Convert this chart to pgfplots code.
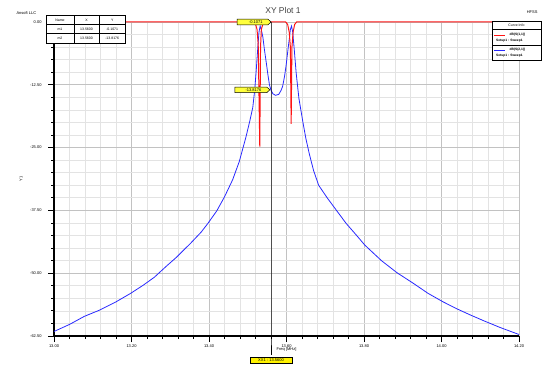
\documentclass[border=0pt]{standalone}
\usepackage{pgfplots}
\pgfplotsset{compat=1.18}
\usepackage{fontspec}
\setmainfont{Liberation Sans}
\definecolor{rcurve}{RGB}{255,20,20}
\definecolor{bcurve}{RGB}{40,40,255}
\definecolor{tagy}{RGB}{255,255,60}
\newcommand{\sm}{\fontsize{4}{4.5}\selectfont}
\begin{document}
\begin{tikzpicture}[x=1bp,y=1bp]
\useasboundingbox (0,0) rectangle (542,365);
\begin{axis}[
  at={(54bp,29bp)}, anchor=south west,
  scale only axis, width=465bp, height=314bp,
  xmin=13.0, xmax=14.2, ymin=-62.5, ymax=0,
  xtick={13.0,13.2,13.4,13.6,13.8,14.0,14.2},
  xticklabels={13.00,13.20,13.40,13.60,13.80,14.00,14.20},
  ytick={-62.5,-50,-37.5,-25,-12.5,0},
  yticklabels={-62.50,-50.00,-37.50,-25.00,-12.50,0.00},
  minor tick num=4,
  grid=both,
  major grid style={draw=black!24, line width=0.8pt},
  minor grid style={draw=black!11, line width=0.7pt},
  axis lines*=left,
  axis line style={black, line width=1.1pt},
  tick align=outside,
  major tick length=6bp, minor tick length=3bp,
  every tick/.style={black, line width=0.8pt},
  tick label style={font=\sm},
  xticklabel style={yshift=1bp},
  yticklabel style={xshift=-3bp},
  xlabel={Freq [MHz]}, xlabel style={font=\sm, yshift=7bp},
  ylabel={Y1}, ylabel style={font=\sm, yshift=1bp},
  clip=false,
]
\addplot[bcurve, line width=0.8pt] coordinates {
(13.000,-61.6) (13.040,-60.2) (13.078,-58.6) (13.116,-57.4) (13.160,-55.7)
(13.198,-54.0) (13.230,-52.4) (13.259,-50.8) (13.290,-48.6) (13.315,-46.9)
(13.353,-44.0) (13.380,-41.8) (13.397,-40.1) (13.420,-37.6) (13.440,-34.8)
(13.461,-31.4) (13.478,-27.8) (13.495,-23.0) (13.505,-19.8) (13.513,-17.0)
(13.518,-13.5) (13.522,-9.5) (13.526,-5.0) (13.529,-2.0) (13.532,-0.8)
(13.535,-1.5) (13.539,-3.0) (13.543,-5.5) (13.548,-8.2) (13.552,-10.5)
(13.556,-12.5) (13.560,-13.6) (13.565,-14.3) (13.572,-14.6) (13.580,-14.4)
(13.586,-13.6) (13.590,-12.8) (13.595,-10.8) (13.599,-8.6) (13.603,-6.0)
(13.607,-3.5) (13.610,-1.5) (13.613,-0.8) (13.616,-2.0) (13.620,-5.5)
(13.625,-10.2) (13.632,-15.2) (13.642,-19.8) (13.650,-23.2) (13.659,-26.3)
(13.670,-29.6) (13.683,-32.5) (13.705,-35.0) (13.728,-37.4) (13.754,-40.1)
(13.780,-42.4) (13.802,-44.4) (13.845,-47.5) (13.885,-49.9) (13.927,-52.0)
(13.965,-54.0) (14.004,-55.7) (14.040,-57.1) (14.074,-58.3) (14.110,-59.5)
(14.151,-60.8) (14.200,-62.2)};
\addplot[rcurve, line width=1pt] coordinates {
(13.000,0) (13.515,0) (13.520,-0.4) (13.524,-1.5) (13.527,-4.5)
(13.531,-24.8) (13.533,-5) (13.535,-1.5) (13.539,-0.4) (13.543,0)
(13.598,0) (13.603,-0.5) (13.607,-2) (13.610,-5) (13.612,-20.3)
(13.614,-5) (13.617,-2) (13.621,-0.5) (13.626,0) (14.200,0)};
\coordinate (ctop) at (axis cs:13.56,0);
\coordinate (cbot) at (axis cs:13.56,-62.5);
\coordinate (m2) at (axis cs:13.557,-13.5);
\end{axis}
% cursor line
\draw[black, line width=0.8pt] (ctop) -- (cbot) -- ++(0,-19);
% marker tags
\draw[black, fill=tagy, line width=0.5pt] (ctop) -- ++(-3,2.8) -- ++(-31,0) -- ++(0,-5.6) -- ++(31,0) -- cycle;
\node[font=\sm, anchor=east] at ([xshift=-5bp]ctop) {-0.1071};
\draw[black, fill=tagy, line width=0.5pt] (m2) -- ++(-3,2.8) -- ++(-32,0) -- ++(0,-5.6) -- ++(32,0) -- cycle;
\node[font=\sm, anchor=east] at ([xshift=-5bp]m2) {-13.8176};
% bottom cursor readout
\node[draw=black, fill=yellow, line width=0.5pt, font=\sm, inner sep=1bp, minimum width=42bp, minimum height=6.5bp] at (271,5) {XX1 : 13.5600};
% title and header texts
\node[font=\fontsize{8.5}{9}\selectfont, text=black!75] at (283,355) {XY Plot 1};
\node[font=\sm, anchor=west] at (13,352) {Ansoft LLC};
\node[font=\sm, anchor=east] at (541,353) {HFSS};
% marker table
\begin{scope}[line width=0.7pt]
\fill[white] (46,322) rectangle (125.5,349.3);
\draw (46,322) rectangle (125.5,349.3);
\draw (46,340.7) -- (125.5,340.7);
\draw (46,331.3) -- (125.5,331.3);
\draw (74,322) -- (74,349.3);
\draw (99,322) -- (99,349.3);
\node[font=\fontsize{3.5}{4}\selectfont] at (60,345) {Name};
\node[font=\fontsize{3.5}{4}\selectfont] at (86.5,345) {X};
\node[font=\fontsize{3.5}{4}\selectfont] at (112.2,345) {Y};
\node[font=\fontsize{3.5}{4}\selectfont] at (60,336) {m1};
\node[font=\fontsize{3.5}{4}\selectfont] at (86.5,336) {13.5600};
\node[font=\fontsize{3.5}{4}\selectfont] at (112.2,336) {-0.1071};
\node[font=\fontsize{3.5}{4}\selectfont] at (60,326.6) {m2};
\node[font=\fontsize{3.5}{4}\selectfont] at (86.5,326.6) {13.5600};
\node[font=\fontsize{3.5}{4}\selectfont] at (112.2,326.6) {-13.8176};
\end{scope}
% legend box
\begin{scope}[line width=0.7pt]
\fill[white] (492,305) rectangle (541.5,343.3);
\draw (492,305) rectangle (541.5,343.3);
\draw (492,336) -- (541.5,336);
\draw (492,320) -- (541.5,320);
\node[font=\fontsize{3.5}{4}\selectfont] at (516.5,339.6) {Curve Info};
\draw[rcurve, line width=0.9pt] (494,330) -- (505,330);
\node[font=\fontsize{3.3}{4}\selectfont\bfseries, anchor=west] at (506,330) {dB(S(1,1))};
\node[font=\fontsize{3.3}{4}\selectfont\bfseries, anchor=west] at (492.5,324.3) {Setup1 : Sweep1};
\draw[bcurve, line width=0.9pt] (494,315) -- (505,315);
\node[font=\fontsize{3.3}{4}\selectfont\bfseries, anchor=west] at (506,315) {dB(S(2,1))};
\node[font=\fontsize{3.3}{4}\selectfont\bfseries, anchor=west] at (492.5,309.3) {Setup1 : Sweep1};
\end{scope}
\end{tikzpicture}
\end{document}
